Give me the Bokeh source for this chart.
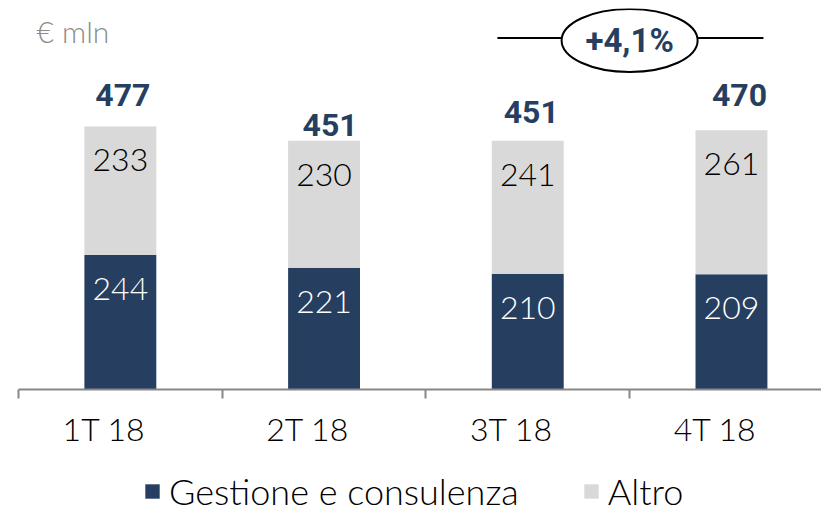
from bokeh.plotting import figure
from bokeh.models import (ColumnDataSource, Range1d, FixedTicker, Label, Legend, LegendItem)
from bokeh.layouts import column
from bokeh.core.properties import value
from bokeh.embed import file_html
from bokeh.resources import INLINE

# ---- data ----
categories = ["1T 18", "2T 18", "3T 18", "4T 18"]
gestione = [244, 221, 210, 209]
altro = [233, 230, 241, 261]
totals = [477, 451, 451, 470]
growth_label = "+4,1%"
unit_label = "€ mln"

# ---- style ----
NAVY = "#263F60"
GRAY = "#D9D9D9"
AXIS = "#878787"
LIGHT = "Lato Light"
total_dx = [2.5, 6, 3.5, 8]        # pixel nudges of the total labels
total_dy = [-31, -16, -29, -35]
label_shift = 0.08                 # category labels sit slightly left of the bars

idx = list(range(len(categories)))
src = ColumnDataSource(dict(
    x=idx, gestione=gestione, altro=altro, totals=totals,
    g_txt=[str(v) for v in gestione], a_txt=[str(v) for v in altro],
    t_txt=[str(v) for v in totals], dx=total_dx, dy=total_dy,
))

p = figure(width=821, height=458, x_range=Range1d(-0.5, 3.442), y_range=Range1d(0, 691),
           toolbar_location=None, output_backend="svg", tools="",
           min_border_left=18, min_border_right=0, min_border_top=8, min_border_bottom=69,
           y_axis_location=None)
p.outline_line_color = None
p.grid.visible = False
p.background_fill_color = "white"
p.border_fill_color = "white"

p.vbar_stack(["gestione", "altro"], x="x", width=0.353, source=src,
             fill_color=[NAVY, GRAY], line_color=None)

# inner labels
p.text(x="x", y="gestione", text="g_txt", source=src, y_offset=34,
       text_align="center", text_baseline="alphabetic", text_color="white",
       text_font=value(LIGHT), text_font_size="32px")
p.text(x="x", y="totals", text="a_txt", source=src, y_offset=34,
       text_align="center", text_baseline="alphabetic", text_color="black",
       text_font=value(LIGHT), text_font_size="32px")
# totals
p.text(x="x", y="totals", text="t_txt", source=src, x_offset="dx", y_offset="dy",
       text_align="center", text_baseline="alphabetic", text_color=NAVY,
       text_font=value("Roboto"), text_font_style="bold", text_font_size="32px")

# growth annotation
gy_line = (381 - 29.5) / 0.55137
gy_ell = (381 - 32) / 0.55137
p.segment(x0=[1.851], y0=[gy_line], x1=[3.157], y1=[gy_line], line_color="black", line_width=2)
p.ellipse(x=[2.5], y=[gy_ell], width=136, height=63, width_units="screen", height_units="screen",
          fill_color="white", line_color="black", line_width=2)
p.text(x=[2.5], y=[gy_ell], text=[growth_label], text_align="center", text_baseline="middle",
       text_color=NAVY, text_font=value("Roboto"), text_font_style="bold", text_font_size="33px")

p.add_layout(Label(x=18, y=359, x_units="screen", y_units="screen", text=unit_label,
                   text_font=LIGHT, text_font_size="30px", text_color="#8C8C8C",
                   text_baseline="alphabetic"))

# x axis
label_ticks = [round(i - label_shift, 2) for i in idx]
ax = p.xaxis[0]
ax.ticker = FixedTicker(ticks=label_ticks, minor_ticks=[i - 0.5 for i in range(len(categories) + 1)])
ax.major_label_overrides = {t: c for t, c in zip(label_ticks, categories)}
ax.axis_line_color = AXIS
ax.axis_line_width = 2
ax.major_tick_line_color = None
ax.major_tick_out = 0
ax.major_tick_in = 0
ax.minor_tick_line_color = AXIS
ax.minor_tick_line_width = 2
ax.minor_tick_out = 9
ax.minor_tick_in = 0
ax.major_label_standoff = 10
ax.major_label_text_font = LIGHT
ax.major_label_text_font_size = "32px"
ax.major_label_text_color = "black"

# legend figure
lg = figure(width=821, height=55, x_range=Range1d(0, 1), y_range=Range1d(0, 1),
            toolbar_location=None, output_backend="svg", tools="",
            min_border_left=0, min_border_right=0, min_border_top=0, min_border_bottom=0,
            x_axis_location=None, y_axis_location=None)
lg.outline_line_color = None
lg.grid.visible = False
lg.border_fill_color = "white"
lg.background_fill_color = "white"
r1 = lg.vbar(x=[0.5], top=[-5], bottom=[-6], width=0.1, fill_color=NAVY, line_color=None)
r2 = lg.vbar(x=[0.5], top=[-5], bottom=[-6], width=0.1, fill_color=GRAY, line_color=None)
legend = Legend(items=[LegendItem(label="Gestione e consulenza", renderers=[r1]),
                       LegendItem(label="Altro", renderers=[r2])],
                orientation="horizontal", location=(125, 0),
                glyph_width=18, glyph_height=18, label_standoff=8, spacing=63,
                padding=0, margin=0, border_line_color=None, background_fill_alpha=0,
                label_text_font=LIGHT, label_text_font_size="36px", label_text_color="black")
lg.add_layout(legend)

layout = column(p, lg, spacing=0)
open("out.html", "w").write(file_html(layout, INLINE))
